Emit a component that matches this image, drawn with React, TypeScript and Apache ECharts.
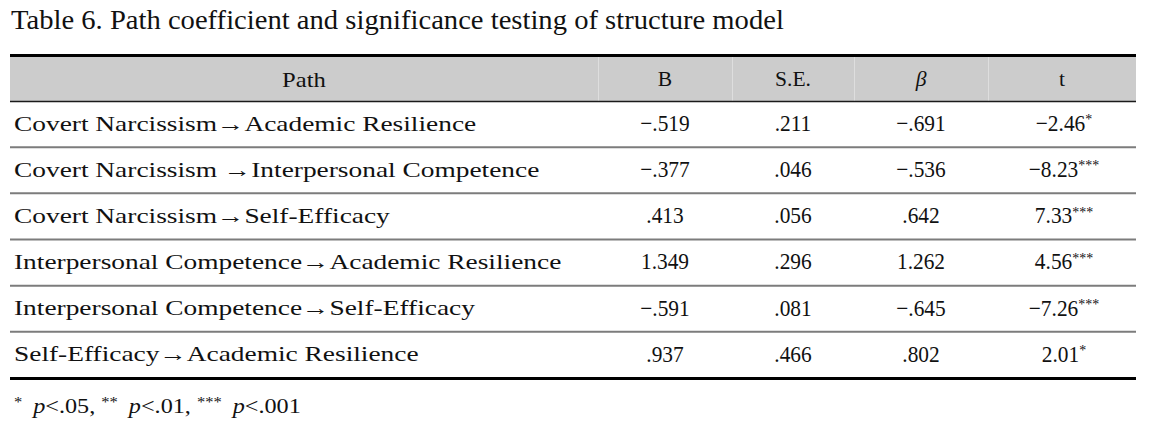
import React, { useEffect, useRef } from "react";
import * as echarts from "echarts";

const titleText = "Table 6. Path coefficient and significance testing of structure model";
const headers = ["Path", "B", "S.E.", "β", "t"];
const paths = [
  "Covert Narcissism→Academic Resilience",
  "Covert Narcissism →Interpersonal Competence",
  "Covert Narcissism→Self-Efficacy",
  "Interpersonal Competence→Academic Resilience",
  "Interpersonal Competence→Self-Efficacy",
  "Self-Efficacy→Academic Resilience",
];
const bValues = [-0.519, -0.377, 0.413, 1.349, -0.591, 0.937];
const seValues = [0.211, 0.046, 0.056, 0.296, 0.081, 0.466];
const betaValues = [-0.691, -0.536, 0.642, 1.262, -0.645, 0.802];
const tValues = [-2.46, -8.23, 7.33, 4.56, -7.26, 2.01];
const tStars = ["*", "***", "***", "***", "***", "*"];
const footnoteStars = ["*", "**", "***"];
const footnoteP = [".05", ".01", ".001"];

const FONT = "'Liberation Serif', 'Times New Roman', 'DejaVu Serif', serif";
const INK = "#111111";

function fmt(v: number, d: number): string {
  let s = Math.abs(v).toFixed(d);
  if (Math.abs(v) < 1) s = s.replace(/^0/, "");
  return (v < 0 ? "\u2212" : "") + s;
}

export default function App() {
  const ref = useRef<HTMLDivElement>(null);

  useEffect(() => {
    if (!ref.current) return;
    const chart = echarts.init(ref.current, undefined, { renderer: "svg" });

    const left = 10;
    const right = 1136;
    const colEdges = [left, 598, 732, 854, 988, right];
    const topLineY = 55.5;
    const headTop = 57;
    const headBottom = 101;
    const tableBottom = 378;
    const rowH = (tableBottom - headBottom) / paths.length;
    const centers = colEdges.slice(0, -1).map((e, i) => (e + colEdges[i + 1]) / 2);

    const els: any[] = [];

    // header background
    els.push({
      type: "rect",
      shape: { x: left, y: headTop - 1, width: right - left, height: headBottom - headTop + 1 },
      style: { fill: "#cccccc" },
      silent: true,
    });
    // header column separators
    for (let i = 1; i < colEdges.length - 1; i++) {
      els.push({
        type: "line",
        shape: { x1: colEdges[i] + 0.5, y1: headTop, x2: colEdges[i] + 0.5, y2: headBottom },
        style: { stroke: "#dedede", lineWidth: 1 },
        silent: true,
      });
    }
    // top thick rule
    els.push({
      type: "line",
      shape: { x1: left, y1: topLineY, x2: right, y2: topLineY },
      style: { stroke: "#000000", lineWidth: 3 },
      silent: true,
    });
    // header bottom rule
    els.push({
      type: "line",
      shape: { x1: left, y1: headBottom + 0.5, x2: right, y2: headBottom + 0.5 },
      style: { stroke: "#1a1a1a", lineWidth: 1.5 },
      silent: true,
    });
    // row separators
    for (let i = 1; i < paths.length; i++) {
      const y = headBottom + rowH * i;
      els.push({
        type: "line",
        shape: { x1: left, y1: y, x2: right, y2: y },
        style: { stroke: "#7c7c7c", lineWidth: 2 },
        silent: true,
      });
    }
    // bottom thick rule
    els.push({
      type: "line",
      shape: { x1: left, y1: tableBottom + 0.5, x2: right, y2: tableBottom + 0.5 },
      style: { stroke: "#000000", lineWidth: 3 },
      silent: true,
    });

    // title
    els.push({
      type: "text",
      x: 11,
      y: 20,
      scaleX: 1.06,
      style: {
        text: titleText,
        fill: INK,
        fontFamily: FONT,
        fontSize: 27,
        align: "left",
        verticalAlign: "middle",
      },
    });

    // headers
    const headY = (headTop + headBottom) / 2;
    headers.forEach((h, i) => {
      els.push({
        type: "text",
        x: centers[i],
        y: headY,
        scaleX: i === 0 ? 1.12 : 0.98,
        style: {
          text: h,
          fill: INK,
          fontFamily: FONT,
          fontSize: 22,
          fontStyle: h === "β" ? "italic" : "normal",
          align: "center",
          verticalAlign: "middle",
        },
      });
    });

    // rows
    paths.forEach((p, r) => {
      const yc = headBottom + rowH * (r + 0.5) - 1;
      els.push({
        type: "text",
        x: 14,
        y: yc,
        scaleX: 1.245,
        style: {
          text: p,
          fill: INK,
          fontFamily: FONT,
          fontSize: 22,
          align: "left",
          verticalAlign: "middle",
        },
      });
      const cells = [fmt(bValues[r], 3), fmt(seValues[r], 3), fmt(betaValues[r], 3)];
      cells.forEach((c, k) => {
        els.push({
          type: "text",
          x: centers[k + 1],
          y: yc,
          scaleX: 0.93,
          style: {
            text: c,
            fill: INK,
            fontFamily: FONT,
            fontSize: 23,
            align: "center",
            verticalAlign: "middle",
          },
        });
      });
      els.push({
        type: "text",
        x: centers[4] + 2,
        y: yc,
        scaleX: 0.93,
        style: {
          text: `{n|${fmt(tValues[r], 2)}}{s|${tStars[r]}}`,
          fill: INK,
          align: "center",
          verticalAlign: "middle",
          rich: {
            n: { fontFamily: FONT, fontSize: 23, fill: INK },
            s: { fontFamily: FONT, fontSize: 15, fill: INK, verticalAlign: "top" },
          },
        },
      });
    });

    // footnote
    const fnParts = footnoteStars
      .map(
        (s, i) =>
          `{s|${s}}{i|p}{n|<${footnoteP[i]}}${i < footnoteStars.length - 1 ? "{n|, }" : ""}`
      )
      .join("");
    els.push({
      type: "text",
      x: 14,
      y: 405,
      scaleX: 1.1,
      style: {
        text: fnParts,
        fill: INK,
        align: "left",
        verticalAlign: "middle",
        rich: {
          n: { fontFamily: FONT, fontSize: 22, fill: INK },
          i: { fontFamily: FONT, fontSize: 22, fontStyle: "italic", fill: INK },
          s: {
            fontFamily: FONT,
            fontSize: 15,
            fill: INK,
            verticalAlign: "top",
            padding: [0, 10, 0, 0],
          },
        },
      },
    });

    chart.setOption({
      animation: false,
      backgroundColor: "#ffffff",
      graphic: { elements: els },
    });

    return () => chart.dispose();
  }, []);

  return (
    <div
      ref={ref}
      style={{ position: "absolute", left: 0, top: 0, width: 1157, height: 429, background: "#fff" }}
    />
  );
}
